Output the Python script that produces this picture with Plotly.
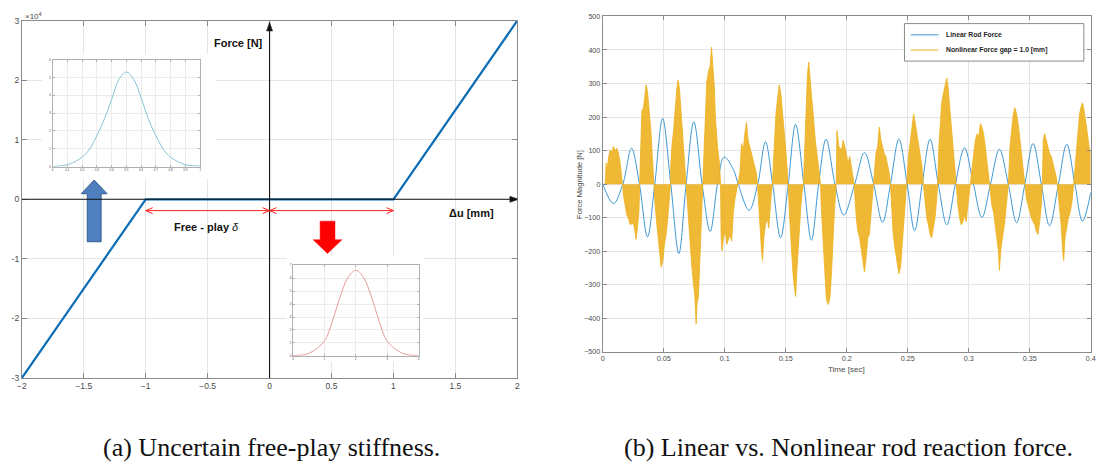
import plotly.graph_objects as go

# ---------------- data ----------------
# (a) free-play stiffness law: force vs relative displacement
du_mm = [-2.0, -1.0, 1.0, 2.0]
force_n = [-30000, 0, 0, 30000]

# probability density insets
stiff_x = [0, 0.1, 0.2, 0.25, 0.3, 0.35, 0.4, 0.45, 0.5, 0.55, 0.6, 0.65, 0.7, 0.75, 0.8, 0.9, 1.0]
stiff_pdf = [0.0, 0.1, 0.52, 0.98, 1.73, 2.65, 3.77, 4.9, 5.31, 4.9, 3.86, 2.65, 1.73, 0.98, 0.52, 0.1, 0.02]
gap_x = [0, 0.5, 1, 1.25, 1.5, 1.75, 2, 2.25, 2.5, 2.75, 3, 3.5, 4]
gap_pdf = [0.02, 0.18, 1.14, 2.65, 4.55, 6.06, 6.62, 6.06, 4.55, 2.65, 1.14, 0.18, 0.02]

# (b) rod reaction force time histories
linear_t = [0, 0.0087, 0.0164, 0.0235, 0.030, 0.0366, 0.0426, 0.049, 0.0557, 0.0623,
            0.0683, 0.0746, 0.0814, 0.088, 0.094, 0.0995, 0.107, 0.111, 0.1199, 0.127,
            0.1333, 0.1392, 0.1457, 0.152, 0.158, 0.1648, 0.171, 0.1769, 0.183, 0.1903,
            0.1975, 0.2065, 0.2145, 0.222, 0.2293, 0.2358, 0.2427, 0.2495, 0.2556, 0.2618,
            0.2683, 0.275, 0.282, 0.289, 0.2965, 0.3038, 0.3108, 0.3178, 0.3251, 0.3324,
            0.3392, 0.346, 0.3527, 0.3595, 0.3662, 0.3735, 0.3803, 0.387, 0.3932, 0.4]
linear_f = [0, -58, 0, 107, 0, -157, 0, 196, 0, -207,
            0, 186, 0, -141, 0, 81, 44, 0, -78, 0,
            126, 0, -160, 0, 178, 0, -167, 0, 134, 0,
            -92, 0, 94, 0, -114, 0, 134, 0, -139, 0,
            134, 0, -121, 0, 108, 0, -99, 0, 104, 0,
            -115, 0, 121, 0, -124, 0, 119, 0, -110, -25]

nonlinear_t = [
    0.0, 0.0020, 0.0027, 0.0035, 0.0046, 0.0060, 0.0075, 0.0087, 0.0100, 0.0115, 0.0128, 0.0142, 0.0156, 0.0162,
    0.0169, 0.0183, 0.0197, 0.0210, 0.0224, 0.0246, 0.0257, 0.0273, 0.0284, 0.0296, 0.0302,
    0.0311, 0.0320, 0.0333, 0.0347, 0.0355, 0.0366, 0.0377, 0.0388, 0.0396, 0.0404, 0.0415, 0.0422,
    0.0429, 0.0443, 0.0456, 0.0470, 0.0478, 0.0492, 0.0505, 0.0519, 0.0530, 0.0541, 0.0552, 0.0555,
    0.0557, 0.0566, 0.0580, 0.0593, 0.0607, 0.0617, 0.0628, 0.0639, 0.0650, 0.0661, 0.0672, 0.0683,
    0.0689, 0.0702, 0.0716, 0.0730, 0.0743, 0.0754, 0.0765, 0.0773, 0.0784, 0.0792, 0.0803, 0.0814, 0.0820,
    0.0830, 0.0842, 0.0852, 0.0866, 0.0880, 0.0891, 0.0902, 0.0913, 0.0923, 0.0940, 0.0956, 0.0965,
    0.0970, 0.0976, 0.0989, 0.1003, 0.1016, 0.1030, 0.1043, 0.1056, 0.1070, 0.1083, 0.1097, 0.1110,
    0.1124, 0.1137, 0.1151, 0.1164, 0.1177, 0.1191, 0.1204, 0.1218, 0.1231, 0.1245, 0.1258, 0.1268,
    0.1280, 0.1290, 0.1301, 0.1309, 0.1320, 0.1333, 0.1347, 0.1360, 0.1371, 0.1382, 0.1390,
    0.1398, 0.1409, 0.1419, 0.1433, 0.1446, 0.1460, 0.1473, 0.1487, 0.1500, 0.1513, 0.1520,
    0.1527, 0.1538, 0.1548, 0.1559, 0.1570, 0.1581, 0.1591, 0.1602, 0.1613, 0.1624, 0.1634, 0.1645,
    0.1656, 0.1667, 0.1677, 0.1688, 0.1699, 0.1710, 0.1720, 0.1731, 0.1742, 0.1755, 0.1769, 0.1780, 0.1785,
    0.1790, 0.1801, 0.1812, 0.1823, 0.1833, 0.1849, 0.1863, 0.1876, 0.1887, 0.1898, 0.1909, 0.1914,
    0.1919, 0.1935, 0.1957, 0.1970, 0.1984, 0.1997, 0.2011, 0.2024, 0.2038, 0.2051, 0.2060,
    0.2078, 0.2091, 0.2105, 0.2118, 0.2132, 0.2145, 0.2159, 0.2172, 0.2185, 0.2199, 0.2212, 0.2220,
    0.2228, 0.2239, 0.2253, 0.2266, 0.2280, 0.2293, 0.2306, 0.2320, 0.2333, 0.2347, 0.2358,
    0.2368, 0.2379, 0.2390, 0.2401, 0.2414, 0.2427, 0.2441, 0.2454, 0.2468, 0.2481, 0.2490,
    0.2508, 0.2522, 0.2535, 0.2548, 0.2562, 0.2575, 0.2589, 0.2602, 0.2616, 0.2628,
    0.2642, 0.2656, 0.2669, 0.2683, 0.2696, 0.2710, 0.2723, 0.2737, 0.2745,
    0.2755, 0.2766, 0.2777, 0.2790, 0.2804, 0.2820, 0.2831, 0.2844, 0.2858, 0.2871, 0.2884, 0.2895, 0.2900,
    0.2911, 0.2925, 0.2938, 0.2952, 0.2965, 0.2978, 0.2990, 0.3000, 0.3012,
    0.3027, 0.3041, 0.3054, 0.3068, 0.3081, 0.3095, 0.3108, 0.3122, 0.3135, 0.3149, 0.3162, 0.3170,
    0.3189, 0.3203, 0.3216, 0.3230, 0.3243, 0.3251, 0.3262, 0.3276, 0.3292, 0.3308, 0.3319, 0.3325,
    0.3338, 0.3351, 0.3365, 0.3378, 0.3392, 0.3405, 0.3419, 0.3432, 0.3446, 0.3455,
    0.3473, 0.3486, 0.3500, 0.3514, 0.3527, 0.3541, 0.3554, 0.3568, 0.3581, 0.3595, 0.3603,
    0.3611, 0.3622, 0.3635, 0.3649, 0.3662, 0.3676, 0.3689, 0.3703, 0.3716, 0.3725,
    0.3743, 0.3757, 0.3770, 0.3778, 0.3789, 0.3803, 0.3816, 0.3832, 0.3849, 0.3860,
    0.3876, 0.3886, 0.3897, 0.3908, 0.3919, 0.3932, 0.3946, 0.3959, 0.3973, 0.3986, 0.4000,
]
nonlinear_f = [
    0, 0, 63, 40, 78, 102, 95, 112, 100, 107, 92, 63, 15, 0,
    -34, -63, -92, -102, -121, -116, -126, -165, -120, -83, 0,
    112, 218, 228, 267, 296, 277, 238, 199, 150, 92, 15, 0,
    -63, -121, -180, -218, -248, -228, -180, -150, -112, -63, -15, 0,
    53, 112, 160, 238, 286, 311, 286, 228, 170, 112, 53, 0,
    -44, -121, -199, -248, -296, -335, -417, -354, -335, -257, -160, -63, 0,
    131, 228, 306, 335, 354, 408, 364, 296, 199, 112, 63, 0,
    -160, -199, -160, -140, -180, -160, -150, -170, -83, -44, -20, 0,
    34, 121, 102, 150, 184, 131, 112, 92, 73, 53, 34, 0,
    -83, -141, -199, -228, -160, -121, -102, -131, -63, -24, 0,
    53, 150, 209, 257, 296, 267, 218, 160, 102, 34, 0,
    -63, -141, -218, -267, -306, -335, -257, -180, -112, -63, -24, 0,
    112, 228, 325, 364, 325, 267, 228, 170, 131, 92, 53, 15, 0,
    -63, -141, -218, -286, -345, -359, -335, -257, -160, -83, -24, 0,
    160, 112, 102, 131, 112, 83, 63, 83, 44, 15, 0,
    -102, -141, -160, -199, -228, -262, -218, -160, -150, -83, -34, 0,
    53, 92, 112, 170, 131, 112, 92, 83, 63, 34, 0,
    -83, -141, -180, -209, -238, -267, -248, -180, -102, -34, 0,
    92, 131, 180, 209, 180, 150, 112, 92, 53, 0,
    -63, -102, -121, -150, -160, -131, -102, -44, 0,
    112, 189, 238, 267, 286, 316, 286, 228, 189, 131, 73, 24, 0,
    -63, -102, -121, -112, -92, -112, -70, -44, 0,
    63, 92, 131, 150, 140, 180, 170, 150, 112, 73, 24, 0,
    -63, -83, -121, -160, -199, -257, -199, -160, -121, -63, -24, 0,
    112, 150, 209, 228, 209, 180, 131, 83, 34, 0,
    -44, -63, -83, -102, -112, -121, -141, -150, -112, -63, 0,
    131, 150, 131, 112, 92, 83, 63, 44, 24, 0,
    -63, -121, -199, -228, -160, -121, -102, -83, -44, 0,
    73, 131, 180, 209, 228, 243, 218, 189, 150, 112, 92,
]

du_ticks = [-2, -1.5, -1, -0.5, 0, 0.5, 1, 1.5, 2]
force_ticks = [-30000, -20000, -10000, 0, 10000, 20000, 30000]
force_tick_text = ["-3", "-2", "-1", "0", "1", "2", "3"]
time_ticks = [0, 0.05, 0.1, 0.15, 0.2, 0.25, 0.3, 0.35, 0.4]
mag_ticks = [-500, -400, -300, -200, -100, 0, 100, 200, 300, 400, 500]

legend_names = ["Linear Rod Force", "Nonlinear Force gap = 1.0 [mm]"]

# ---------------- layout helpers ----------------
W, H = 1102, 474


def fx(p):
    return p / W


def fy(p):
    return 1 - p / H


AX_COL = "#8a8a8a"
GRID_COL = "#e4e4e4"
TXT_COL = "#4a4a4a"
BLUE_B = "#3d98d3"
YELLOW = "#EDB120"
SANS = "Liberation Sans, Arial, sans-serif"
SERIF = "Liberation Serif, Times New Roman, serif"

# data units per screen pixel on panel (a)
DX = 4.0 / 500.0
DY = 60000.0 / 365.0


def box_axis(domain, anchor, rng, tickvals, ticktext=None, size=8.5, ticklen=5, grid=GRID_COL, line=AX_COL):
    ax = dict(domain=domain, anchor=anchor, range=rng, tickvals=tickvals,
              showgrid=True, gridcolor=grid, gridwidth=1, zeroline=False,
              showline=True, linecolor=line, linewidth=1, mirror="allticks",
              ticks="inside", ticklen=ticklen, tickcolor=line, tickwidth=1,
              tickfont=dict(family=SANS, size=size, color=TXT_COL))
    if ticktext is not None:
        ax["ticktext"] = ticktext
    return ax


fig = go.Figure()

# (a) main law
fig.add_trace(go.Scatter(x=du_mm, y=force_n, mode="lines", xaxis="x", yaxis="y",
                         line=dict(color="#0b6db5", width=2.2), hoverinfo="skip"))

# insets
fig.add_trace(go.Scatter(x=stiff_x, y=stiff_pdf, mode="lines", xaxis="x3", yaxis="y3",
                         line=dict(color="#86c3d6", width=1, shape="spline")))
fig.add_trace(go.Scatter(x=gap_x, y=gap_pdf, mode="lines", xaxis="x4", yaxis="y4",
                         line=dict(color="#e79a9a", width=1, shape="spline")))

# (b) time histories
fig.add_trace(go.Scatter(x=linear_t, y=linear_f, mode="lines", xaxis="x2", yaxis="y2",
                         name=legend_names[0],
                         line=dict(color=BLUE_B, width=1, shape="spline", smoothing=1.0)))
fig.add_trace(go.Scatter(x=nonlinear_t, y=nonlinear_f, mode="lines", xaxis="x2", yaxis="y2",
                         name=legend_names[1], fill="tozeroy",
                         fillcolor="rgba(237,177,32,0.9)",
                         line=dict(color=YELLOW, width=0.8)))

fig.update_layout(
    width=W, height=H, margin=dict(l=0, r=0, t=0, b=0),
    paper_bgcolor="white", plot_bgcolor="white", showlegend=False,
    xaxis=box_axis([fx(17), fx(517)], "y", [-2, 2], du_ticks),
    yaxis=box_axis([fy(381), fy(16)], "x", [-30000, 30000], force_ticks, force_tick_text),
    xaxis2=box_axis([fx(603.3), fx(1095.7)], "y2", [0, 0.4], time_ticks, size=7.2, ticklen=4),
    yaxis2=box_axis([fy(354.3), fy(11.7)], "x2", [-500, 500], mag_ticks, size=7.2, ticklen=4),
    xaxis3=box_axis([fx(48), fx(197)], "y3", [0, 1], [i / 10 for i in range(11)], size=3, ticklen=2,
                    grid="#ececec", line="#b0b0b0"),
    yaxis3=box_axis([fy(165), fy(56)], "x3", [0, 6], list(range(7)), size=3, ticklen=2,
                    grid="#ececec", line="#b0b0b0"),
    xaxis4=box_axis([fx(290.7), fx(417.3)], "y4", [0, 4], list(range(5)), size=3, ticklen=2,
                    grid="#ececec", line="#b0b0b0"),
    yaxis4=box_axis([fy(358.3), fy(266)], "x4", [0, 7], list(range(8)), size=3, ticklen=2,
                    grid="#ececec", line="#b0b0b0"),
)

shapes = []
# white backdrops behind the two inset plots (hide the main grid there)
shapes.append(dict(type="rect", xref="x", yref="y", layer="between",
                   x0=-1.84, x1=-0.43, y0=3400, y1=24500,
                   fillcolor="white", line=dict(width=0)))
shapes.append(dict(type="rect", xref="x", yref="y", layer="between",
                   x0=0.14, x1=1.24, y0=-27300, y1=-9600,
                   fillcolor="white", line=dict(width=0)))


def block_arrow(cx, half_head, half_shaft, y_tail, y_base, y_tip):
    return ("M{a},{t} L{a},{b} L{h0},{b} L{c},{tip} L{h1},{b} L{s1},{b} L{s1},{t} Z"
            .format(a=cx - half_shaft, s1=cx + half_shaft, h0=cx - half_head, h1=cx + half_head,
                    c=cx, t=y_tail, b=y_base, tip=y_tip))


# blue up arrow and red down arrow
shapes.append(dict(type="path", xref="x", yref="y", layer="above",
                   path=block_arrow(-1.416, 0.104, 0.056, -7120, 940, 3240),
                   fillcolor="#4f7fbe", line=dict(color="#35608f", width=1)))
shapes.append(dict(type="path", xref="x", yref="y", layer="above",
                   path=block_arrow(0.468, 0.116, 0.06, -3670, -6790, -9100),
                   fillcolor="#ff0000", line=dict(color="#ff0000", width=0.5)))

# coordinate axes of panel (a) with filled arrow heads
AXC = "#111111"
y_tip = 30000 - 1.5 * DY
x_tip = 2.0 + 1.5 * DX
shapes.append(dict(type="line", xref="x", yref="y", layer="above", x0=0, x1=0, y0=-30000, y1=y_tip - 4 * DY,
                   line=dict(color=AXC, width=1.1)))
shapes.append(dict(type="path", xref="x", yref="y", layer="above",
                   path="M{0},{1} L{2},{3} L{4},{3} Z".format(0, y_tip, -3 * DX, y_tip - 9 * DY, 3 * DX),
                   fillcolor=AXC, line=dict(color=AXC, width=0.5)))
shapes.append(dict(type="line", xref="x", yref="y", layer="above", x0=-2, x1=x_tip - 4 * DX, y0=0, y1=0,
                   line=dict(color=AXC, width=1.1)))
shapes.append(dict(type="path", xref="x", yref="y", layer="above",
                   path="M{0},{1} L{2},{3} L{2},{4} Z".format(x_tip, 0, x_tip - 9 * DX, 3 * DY, -3 * DY),
                   fillcolor=AXC, line=dict(color=AXC, width=0.5)))

# free-play span arrows (open heads at both ends)
RED = "#ff2020"
y_span = -1900
for a, b in [(-1, 0), (0, 1)]:
    shapes.append(dict(type="line", xref="x", yref="y", layer="above", x0=a, x1=b, y0=y_span, y1=y_span,
                       line=dict(color=RED, width=1)))
    for tip, d in [(a, 1), (b, -1)]:
        shapes.append(dict(type="path", xref="x", yref="y", layer="above",
                           path="M{0},{1} L{2},{3} L{0},{4}".format(
                               tip + d * 7 * DX, y_span + 3 * DY, tip, y_span, y_span - 3 * DY),
                           line=dict(color=RED, width=1)))

# legend of panel (b)
shapes.append(dict(type="rect", xref="paper", yref="paper", layer="above",
                   x0=fx(907.7), x1=fx(1088.7), y0=fy(57.3), y1=fy(19),
                   fillcolor="white", line=dict(color="#8a8a8a", width=1)))
for row_y, col in [(30.5, BLUE_B), (46, YELLOW)]:
    shapes.append(dict(type="line", xref="paper", yref="paper", layer="above",
                       x0=fx(914), x1=fx(942), y0=fy(row_y), y1=fy(row_y),
                       line=dict(color=col, width=1)))
fig.update_layout(shapes=shapes)


def label(x, y, text, size, color="#111111", family=SANS, xanchor="center", angle=0):
    return dict(x=fx(x), y=fy(y), xref="paper", yref="paper", text=text, showarrow=False,
                xanchor=xanchor, yanchor="middle", textangle=angle,
                font=dict(family=family, size=size, color=color))


ann = [
    label(236, 39, "<b>Force [N]</b>", 11),
    label(471, 212, "<b>\u0394u [mm]</b>", 11),
    label(203.5, 227, "<b>Free - play</b> <i>\u03b4</i>", 11),
    label(18, 11, "\u00d710<sup>4</sup>", 8, color=TXT_COL, xanchor="left"),
    label(579, 183, "Force Magnitude [N]", 7.6, color=TXT_COL, angle=-90),
    label(849, 372, "Time [sec]", 8, color=TXT_COL),
    label(948, 30.5, "<b>" + legend_names[0] + "</b>", 6.8, color="#262626", xanchor="left"),
    label(948, 46, "<b>" + legend_names[1] + "</b>", 6.8, color="#262626", xanchor="left"),
    label(268.5, 452, "(a) Uncertain free-play stiffness.", 26, family=SERIF),
    label(851, 452, "(b) Linear vs. Nonlinear rod reaction force.", 26, family=SERIF),
]
fig.update_layout(annotations=ann)

fig.write_html("out.html")
